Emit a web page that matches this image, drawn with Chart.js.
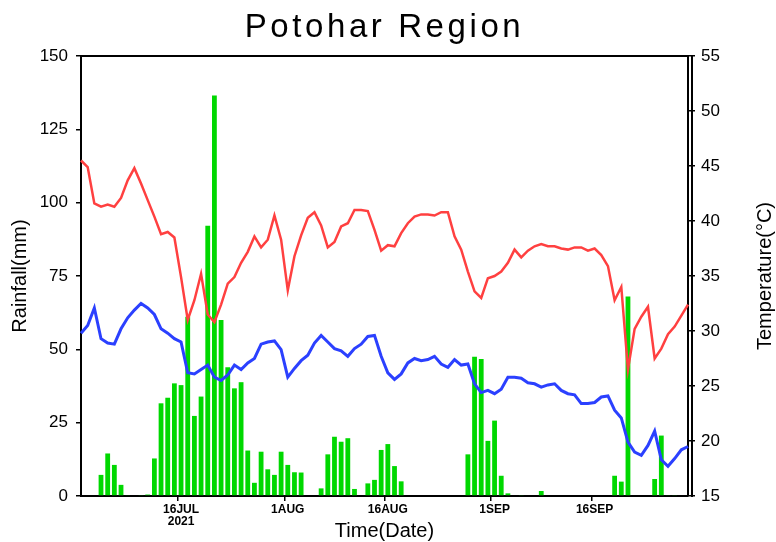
<!DOCTYPE html>
<html>
<head>
<meta charset="utf-8">
<title>Potohar Region</title>
<script src="https://cdn.jsdelivr.net/npm/chart.js@4/dist/chart.umd.min.js"></script>
<style>
  html, body { margin: 0; padding: 0; background: #fff; }
  canvas { display: block; }
</style>
</head>
<body>
<canvas id="chart" width="776" height="542"></canvas>
<script>
// Daily values, 1 Jul 2021 .. 30 Sep 2021 (92 days)
const rainfall = [
    0, 0, 0, 7.2, 14.5, 10.6, 3.8, 0.3, 0, 0.3, 0.5, 12.8, 31.6, 33.5, 38.4, 37.8,
    61.1, 27.3, 33.9, 92.1, 136.5, 60, 43.9, 36.7, 38.8, 15.5, 4.5, 15.1, 9.1, 7.2, 15.1, 10.6,
    8.1, 8.0, 0, 0, 2.6, 14.2, 20.2, 18.5, 19.7, 2.4, 0, 4.3, 5.5, 15.7, 17.7, 10.2,
    5.0, 0, 0, 0, 0, 0, 0, 0, 0, 0, 14.2, 47.5, 46.7, 18.8, 25.7, 6.9,
    0.9, 0, 0.3, 0, 0, 1.7, 0, 0, 0, 0, 0, 0, 0, 0, 0, 0,
    6.9, 4.9, 68, 0, 0, 0, 5.8, 20.6, 0.3, 0.3, 0, 0
];
const tmax = [
    45.5, 44.9, 41.6, 41.3, 41.5, 41.3, 42.1, 43.7, 44.8, 43.4, 41.9, 40.4, 38.8, 39.0, 38.5, 34.9,
    31.0, 32.8, 35.2, 31.5, 30.8, 32.4, 34.3, 34.9, 36.2, 37.2, 38.6, 37.6, 38.3, 40.5, 38.3, 33.7,
    36.8, 38.7, 40.3, 40.8, 39.6, 37.6, 38.1, 39.5, 39.8, 41.0, 41.0, 40.9, 39.2, 37.3, 37.8, 37.7,
    38.9, 39.8, 40.4, 40.6, 40.6, 40.5, 40.8, 40.8, 38.6, 37.4, 35.4, 33.6, 33.0, 34.8, 35.0, 35.4,
    36.2, 37.4, 36.7, 37.3, 37.7, 37.9, 37.7, 37.7, 37.5, 37.4, 37.6, 37.6, 37.3, 37.5, 36.9, 35.9,
    32.8, 34.0, 26.5, 30.2, 31.3, 32.2, 27.5, 28.4, 29.7, 30.4, 31.4, 32.4
];
const tmin = [
    29.8, 30.5, 32.1, 29.3, 28.9, 28.8, 30.2, 31.2, 31.9, 32.5, 32.1, 31.5, 30.2, 29.8, 29.3, 29.0,
    26.2, 26.1, 26.5, 26.9, 25.8, 25.5, 26.0, 26.9, 26.5, 27.1, 27.5, 28.8, 29.0, 29.1, 28.3, 25.8,
    26.6, 27.3, 27.8, 28.9, 29.6, 29.0, 28.4, 28.2, 27.7, 28.4, 28.8, 29.5, 29.6, 27.7, 26.2, 25.6,
    26.1, 27.1, 27.5, 27.3, 27.4, 27.7, 27.0, 26.7, 27.4, 26.9, 27.0, 25.2, 24.4, 24.6, 24.3, 24.7,
    25.8, 25.8, 25.7, 25.3, 25.2, 24.9, 25.1, 25.2, 24.6, 24.3, 24.2, 23.4, 23.4, 23.5, 24.0, 24.1,
    22.8, 22.1, 19.9, 19.0, 18.7, 19.6, 20.9, 18.3, 17.7, 18.4, 19.2, 19.5
];

// x tick positions (day index) and their labels
const tickDays = [15, 31, 46, 62, 77];
const tickLabels = [['16JUL', '2021'], '1AUG', '16AUG', '1SEP', '16SEP'];

// one category per day
const days = [];
const start = new Date(Date.UTC(2021, 6, 1));
for (let i = 0; i < rainfall.length; i++) {
    const d = new Date(start);
    d.setUTCDate(start.getUTCDate() + i);
    days.push(d.toISOString().slice(0, 10));
}

const FONT = "'Liberation Sans', Arial, sans-serif";

// titles, top frame line and the doubled right axis line
const decorations = {
    id: 'decorations',
    afterDraw(chart) {
        const ctx = chart.ctx;
        const a = chart.chartArea;
        ctx.save();

        ctx.strokeStyle = '#000';
        ctx.lineWidth = 2;
        ctx.beginPath();
        ctx.moveTo(a.left - 1, a.top);
        ctx.lineTo(a.right + 1, a.top);
        ctx.moveTo(a.right + 4, a.top - 1);
        ctx.lineTo(a.right + 4, a.bottom + 1);
        ctx.stroke();

        ctx.fillStyle = '#000';
        ctx.textAlign = 'center';
        ctx.textBaseline = 'middle';

        // main title, stretched to the reference width
        ctx.font = '33px ' + FONT;
        const title = 'Potohar Region';
        const w = ctx.measureText(title).width;
        if ('letterSpacing' in ctx) {
            ctx.letterSpacing = Math.max(0, (276 - w) / (title.length - 1)) + 'px';
        }
        ctx.fillText(title, (a.left + a.right) / 2, 28);
        if ('letterSpacing' in ctx) ctx.letterSpacing = '0px';

        ctx.font = '20px ' + FONT;
        ctx.fillText('Time(Date)', (a.left + a.right) / 2, 531);

        const midY = (a.top + a.bottom) / 2;
        ctx.translate(20, midY);
        ctx.rotate(-Math.PI / 2);
        ctx.fillText('Rainfall(mm)', 0, 0);
        ctx.rotate(Math.PI / 2);
        ctx.translate(-20, -midY);

        ctx.translate(765, midY);
        ctx.rotate(-Math.PI / 2);
        ctx.fillText('Temperature(\u00B0C)', 0, 0);
        ctx.restore();
    }
};

new Chart(document.getElementById('chart'), {
    type: 'bar',
    data: {
        labels: days,
        datasets: [
            {
                type: 'line',
                label: 'Tmax',
                data: tmax,
                yAxisID: 'y2',
                borderColor: '#ff4040',
                borderWidth: 2.5,
                pointRadius: 0,
                tension: 0,
                order: 1
            },
            {
                type: 'line',
                label: 'Tmin',
                data: tmin,
                yAxisID: 'y2',
                borderColor: '#2b40ff',
                borderWidth: 3,
                pointRadius: 0,
                tension: 0,
                order: 2
            },
            {
                label: 'Rainfall',
                data: rainfall,
                yAxisID: 'y',
                backgroundColor: '#00d800',
                barPercentage: 0.72,
                categoryPercentage: 1,
                order: 3
            }
        ]
    },
    options: {
        responsive: false,
        animation: false,
        devicePixelRatio: 1,
        layout: { padding: { top: 56, left: 0, right: 0, bottom: 0 } },
        plugins: {
            legend: { display: false },
            tooltip: { enabled: false }
        },
        scales: {
            x: {
                offset: false,
                afterFit(scale) { scale.height = 46; },
                border: { display: true, color: '#000', width: 2 },
                grid: {
                    drawOnChartArea: false,
                    tickLength: 5,
                    lineWidth: 1.5,
                    color: c => tickDays.includes(c.index) ? '#000' : 'rgba(0,0,0,0)'
                },
                ticks: {
                    autoSkip: false,
                    maxRotation: 0,
                    padding: 2,
                    color: '#000',
                    font: { family: FONT, size: 12, weight: 'bold', lineHeight: 1.05 },
                    callback: (v, i) => {
                        const k = tickDays.indexOf(i);
                        return k >= 0 ? tickLabels[k] : '';
                    }
                }
            },
            y: {
                position: 'left',
                min: 0,
                max: 150,
                afterFit(scale) { scale.width = 81; },
                border: { display: true, color: '#000', width: 2 },
                grid: { drawOnChartArea: false, tickLength: 5, color: '#000', lineWidth: 1.5 },
                ticks: {
                    stepSize: 25,
                    padding: 8,
                    color: '#000',
                    font: { family: FONT, size: 17 }
                }
            },
            y2: {
                position: 'right',
                min: 15,
                max: 55,
                afterFit(scale) { scale.width = 88; },
                border: { display: true, color: '#000', width: 2 },
                grid: { drawOnChartArea: false, tickLength: 7, color: '#000', lineWidth: 1.5 },
                ticks: {
                    stepSize: 5,
                    padding: 6,
                    color: '#000',
                    font: { family: FONT, size: 17 }
                }
            }
        }
    },
    plugins: [decorations]
});
</script>
</body>
</html>
